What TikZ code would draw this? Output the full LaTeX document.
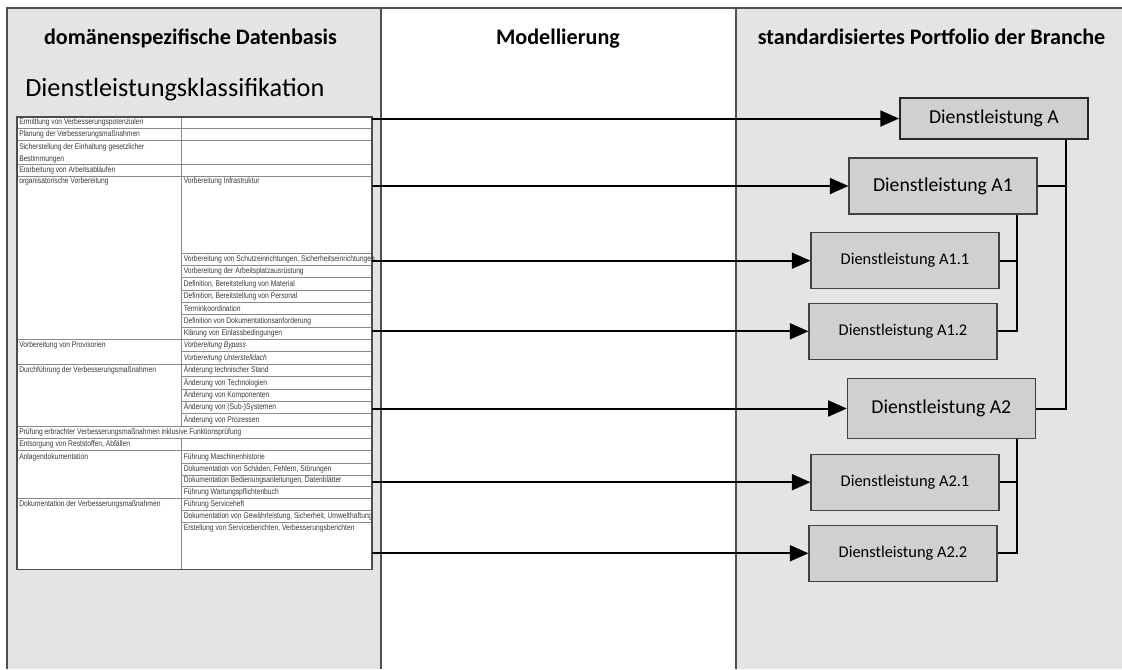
\documentclass[tikz,border=0pt]{standalone}
\usepackage{fontspec}
\setmainfont{Carlito}
\newfontfamily\tabfont[FakeStretch=0.82]{Liberation Sans}
\usetikzlibrary{arrows.meta}

\definecolor{panelgray}{HTML}{E4E4E4}
\definecolor{boxgray}{HTML}{D0D0D0}
\definecolor{framegray}{HTML}{505050}
\definecolor{tabline}{HTML}{8A8A8A}
\definecolor{tabtext}{HTML}{3A3A3A}

\tikzset{
  title/.style={font=\bfseries\fontsize{16.6}{19}\selectfont, anchor=base, inner sep=0pt},
  cell/.style={font=\tabfont\fontsize{6.15}{8.7}\selectfont, text=tabtext, anchor=west, inner sep=0pt},
  portbox/.style={draw=black!75, line width=0.8pt, fill=boxgray, minimum width=141pt,
    minimum height=42pt, font=\fontsize{12.3}{14}\selectfont},
  bigbox/.style={portbox, font=\fontsize{14.8}{17}\selectfont},
  link/.style={line width=1.5pt, -{Triangle[length=14pt,width=12pt]}},
  tree/.style={line width=1.5pt},
}

\begin{document}
\begin{tikzpicture}[x=0.75pt, y=-0.75pt]
	\useasboundingbox (0,0) rectangle (1122,669);
	% Spalten
	\fill[panelgray] (7,8) rectangle (381,669);
	\fill[panelgray] (736,8) rectangle (1122,669);
	\draw[framegray, line width=1.1pt] (7,669) -- (7,8) -- (1122,8)
		(381,8) -- (381,669) (736,8) -- (736,669);
	\path
	(190.5,44) node[title](hdata) {domänenspezifische Datenbasis}
	(558,44) node[title](hmodel) {Modellierung}
	(931.5,44) node[title](hport) {standardisiertes Portfolio der Branche}
	(25,96) node[anchor=base west, inner sep=0pt, font=\fontsize{19.7}{22}\selectfont](klass) {Dienstleistungsklassifikation};

	% Tabelle
	\fill[white] (17,117) rectangle (372,569.5);
	\foreach \y in {253,265.4,277.7,290.1,302.4,314.8,327.1,351.8,376.5,388.9,401.2,413.6,463.3,475,486.7,510,522.3}
		\draw[tabline, line width=0.5pt] (181,\y) -- (372,\y);
	\foreach \y in {128.3,140.5,164.8,176,339.5,364.2,425.9,438.3,450.6,498.3}
		\draw[tabline, line width=0.5pt] (17,\y) -- (372,\y);
	\draw[tabline, line width=0.5pt] (181,117) -- (181,425.9) (181,438.3) -- (181,569.5);
	\draw[black!70, line width=0.8pt] (17,117) rectangle (372,569.5);

	\path
	(19,122.6) node[cell](t1) {Ermittlung von Verbesserungspotenzialen}
	(19,134.4) node[cell](t2) {Planung der Verbesserungsmaßnahmen}
	(19,143.5) node[cell, anchor=north west, align=left](t3) {Sicherstellung der Einhaltung gesetzlicher\\Bestimmungen}
	(19,170.4) node[cell](t4) {Erarbeitung von Arbeitsabläufen}
	(19,181.5) node[cell](t5) {organisatorische Vorbereitung}
	(183.5,181.5) node[cell](t5a) {Vorbereitung Infrastruktur}
	(183.5,259.2) node[cell](t5b) {Vorbereitung von Schutzeinrichtungen, Sicherheitseinrichtungen}
	(183.5,271.5) node[cell](t5c) {Vorbereitung der Arbeitsplatzausrüstung}
	(183.5,283.9) node[cell](t5d) {Definition, Bereitstellung von Material}
	(183.5,296.2) node[cell](t5e) {Definition, Bereitstellung von Personal}
	(183.5,308.6) node[cell](t5f) {Terminkoordination}
	(183.5,321) node[cell](t5g) {Definition von Dokumentationsanforderung}
	(183.5,333.3) node[cell](t5h) {Klärung von Einlassbedingungen}
	(19,345.6) node[cell](t6) {Vorbereitung von Provisorien}
	(183.5,345.6) node[cell, font=\tabfont\itshape\fontsize{6.15}{8.7}\selectfont](t6a) {Vorbereitung Bypass}
	(183.5,358) node[cell, font=\tabfont\itshape\fontsize{6.15}{8.7}\selectfont](t6b) {Vorbereitung Unterstelldach}
	(19,370.3) node[cell](t7) {Durchführung der Verbesserungsmaßnahmen}
	(183.5,370.3) node[cell](t7a) {Änderung technischer Stand}
	(183.5,382.7) node[cell](t7b) {Änderung von Technologien}
	(183.5,395) node[cell](t7c) {Änderung von Komponenten}
	(183.5,407.4) node[cell](t7d) {Änderung von (Sub-)Systemen}
	(183.5,419.7) node[cell](t7e) {Änderung von Prozessen}
	(19,432.1) node[cell](t8) {Prüfung erbrachter Verbesserungsmaßnahmen inklusive Funktionsprüfung}
	(19,444.4) node[cell](t9) {Entsorgung von Reststoffen, Abfällen}
	(19,456.9) node[cell](t10) {Anlagendokumentation}
	(183.5,456.9) node[cell](t10a) {Führung Maschinenhistorie}
	(183.5,469.1) node[cell](t10b) {Dokumentation von Schäden, Fehlern, Störungen}
	(183.5,480.8) node[cell](t10c) {Dokumentation Bedienungsanleitungen, Datenblätter}
	(183.5,492.5) node[cell](t10d) {Führung Wartungspflichtenbuch}
	(19,504.1) node[cell](t11) {Dokumentation der Verbesserungsmaßnahmen}
	(183.5,504.1) node[cell](t11a) {Führung Serviceheft}
	(183.5,516.1) node[cell](t11b) {Dokumentation von Gewährleistung, Sicherheit, Umwelthaftung}
	(183.5,528.3) node[cell](t11c) {Erstellung von Serviceberichten, Verbesserungsberichten};

	% Portfolio
	\path
	(994,118.5) node[bigbox, draw=black!85, line width=1.5pt, minimum height=30.75pt](A) {Dienstleistung A}
	(943,186) node[bigbox](A1) {Dienstleistung A1}
	(905,260.7) node[portbox](A11) {Dienstleistung A1.1}
	(903,331.3) node[portbox](A12) {Dienstleistung A1.2}
	(941.3,408.5) node[bigbox, minimum height=45.5pt](A2) {Dienstleistung A2}
	(905,482.2) node[portbox](A21) {Dienstleistung A2.1}
	(903,553.3) node[portbox](A22) {Dienstleistung A2.2};

	\coordinate (trunk) at (1066,0);
	\coordinate (branch) at (1017,0);
	\draw[tree] (A.south -| trunk) -- (A2.east -| trunk) -- (A2.east);
	\draw[tree] (A1.east) -- (A1.east -| trunk);
	\draw[tree] (A1.south -| branch) -- (A12.east -| branch) -- (A12.east);
	\draw[tree] (A11.east) -- (A11.east -| branch);
	\draw[tree] (A2.south -| branch) -- (A22.east -| branch) -- (A22.east);
	\draw[tree] (A21.east) -- (A21.east -| branch);

	\foreach \n/\y in {A/118.5, A1/186, A11/260.7, A12/331.3, A2/408.5, A21/482.2, A22/553.3}{
		\coordinate (e\n) at (372,\y);
		\draw[link] (e\n) -- (\n);
	}
\end{tikzpicture}
\end{document}
